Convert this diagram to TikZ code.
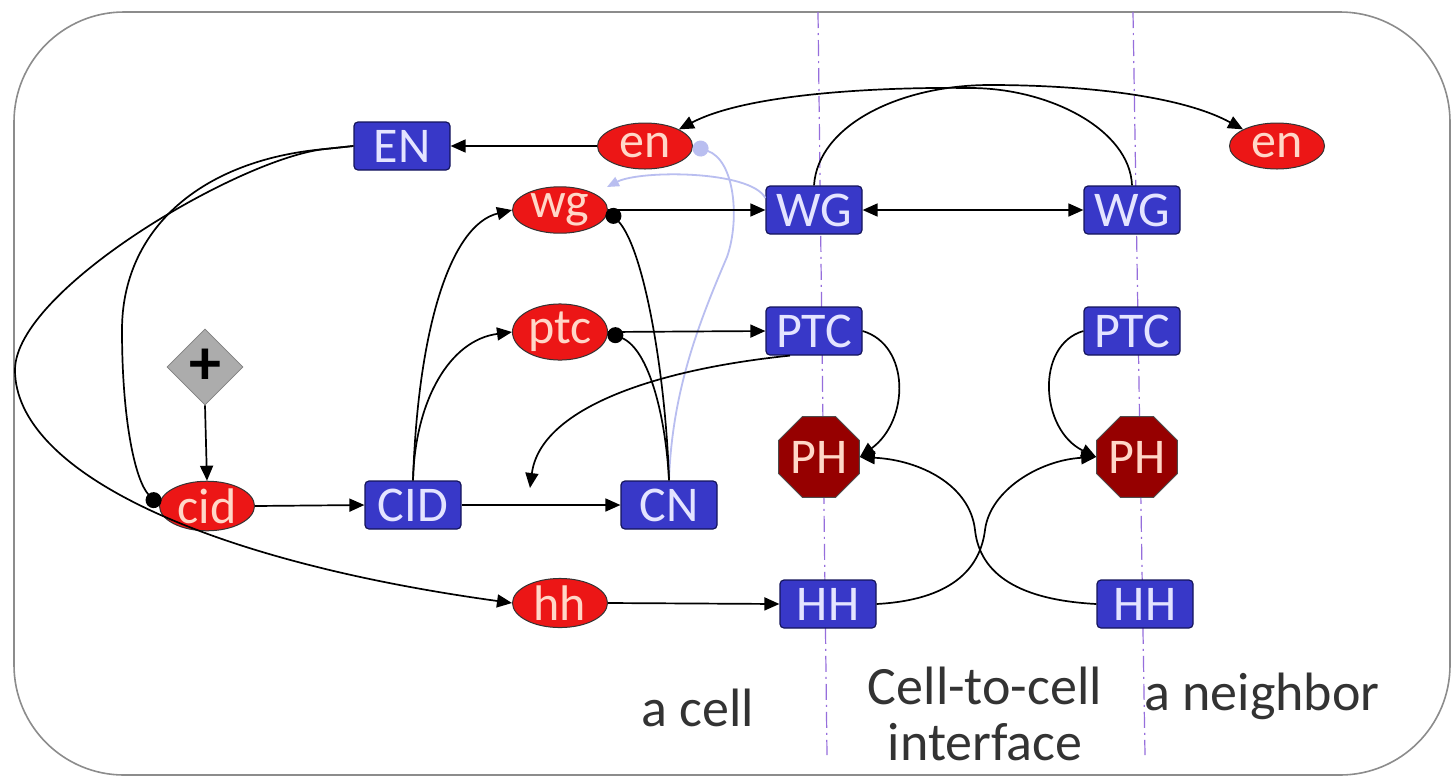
\documentclass[tikz,border=0pt]{standalone}
\usepackage{fontspec}
\setmainfont{Carlito}
\usetikzlibrary{arrows.meta,shapes.geometric}
\definecolor{boxblue}{RGB}{56,56,200}
\definecolor{boxedge}{RGB}{20,20,90}
\definecolor{ellred}{RGB}{236,22,22}
\definecolor{phred}{RGB}{150,0,0}
\definecolor{sepline}{RGB}{150,110,220}
\definecolor{lightlink}{RGB}{185,190,240}
\definecolor{framegray}{RGB}{140,140,140}
\definecolor{boxtext}{RGB}{228,228,255}
\definecolor{elltext}{RGB}{255,215,200}
\begin{document}
\begin{tikzpicture}[x=0.5pt,y=-0.5pt,
  box/.style={draw=boxedge, fill=boxblue, rounded corners=2pt, minimum width=48pt, minimum height=24pt, inner sep=0pt, text=boxtext, font=\fontsize{25}{25}\selectfont, line width=0.6pt},
  ell/.style={ellipse, draw=black!80, fill=ellred, minimum width=47.5pt, minimum height=23pt, inner sep=0pt, text=elltext, font=\fontsize{25}{25}\selectfont, line width=0.5pt},
  octa/.style={regular polygon, regular polygon sides=8, draw=black!70, fill=phred, minimum size=43pt, inner sep=0pt, text=elltext, font=\fontsize{25}{25}\selectfont, line width=0.5pt},
  gate/.style={diamond, draw=gray, fill=gray!65, minimum width=38pt, minimum height=38pt, inner sep=0pt, font=\bfseries\fontsize{32}{32}\selectfont},
  txtlabel/.style={font=\fontsize{27}{27}\selectfont, text=black!80},
  link/.style={draw=black, line width=0.85pt},
  lightln/.style={draw=lightlink, line width=0.9pt},
  arr/.style={-{Triangle[length=7.5pt,width=6.5pt]}},
  blobtip/.style={-{Circle[length=8pt]}},
  lightarr/.style={-{Triangle[length=6pt,width=5pt,color=lightlink]}},
  lightblob/.style={-{Circle[length=8pt,color=lightlink]}},
  sepst/.style={draw=sepline, line width=0.6pt, dash pattern=on 8pt off 2.5pt on 1pt off 2.5pt}
]
\useasboundingbox (0,0) rectangle (1452,778);
\fill[white] (0,0) rectangle (1452,778);
\draw[framegray, line width=0.8pt, rounded corners=55pt] (14,12) rectangle (1450,775);

% separators
\draw[sepst] (818,12) -- (827,755);
\draw[sepst] (1133,12) -- (1145,755);

% nodes
\node[box] (EN) at (402,146) {EN};
\node[ell] (en1) at (645,146) {en};
\node[ell] (en2) at (1277,146) {en};
\node[ell] (wg) at (560,210) {wg};
\node[box] (WG1) at (814,210) {WG};
\node[box] (WG2) at (1132,210) {WG};
\node[ell] (ptc) at (560,332) {ptc};
\node[box] (PTC1) at (814,331) {PTC};
\node[box] (PTC2) at (1132,331) {PTC};
\node[gate] (plus) at (205,367) {+};
\node[ell] (cid) at (207,506) {cid};
\node[box] (CID) at (413,505) {CID};
\node[box] (CN) at (669,505) {CN};
\node[octa] (PH1) at (819,457) {PH};
\node[octa] (PH2) at (1137,457) {PH};
\node[ell] (hh) at (560,603) {hh};
\node[box] (HH1) at (828,604) {HH};
\node[box] (HH2) at (1145,604) {HH};

% labels
\node[txtlabel] (lcell) at (698,708) {a cell};
\node[txtlabel] (lc2c) at (985,686) {Cell-to-cell};
\node[txtlabel] (lint) at (985,742) {interface};
\node[txtlabel] (lnb) at (1262,696) {a neighbor};

\coordinate (free) at (530,488);
\coordinate (wgtip) at (607,187);

% light connectors
\draw[lightln,lightblob] (CN.north) .. controls (672,390) and (700,320) .. (727,257) .. controls (740,220) and (735,160) .. (en1.east);
\draw[lightln,lightarr] ([yshift=6pt]WG1.west) .. controls (750,170) and (640,170) .. (wgtip);

% black connectors
\draw[link,arr] (en1.west) -- (EN.east);
\draw[link,blobtip] (EN.west) -- (325,149) .. controls (200,160) and (122,230) .. (122,330) .. controls (122,420) and (135,480) .. (cid.west);
\draw[link,arr] (EN.west) -- (325,149) .. controls (240,158) and (15,290) .. (15,370) .. controls (15,470) and (200,560) .. (hh.west);
\draw[link,arr] (plus.south) -- (cid.north);
\draw[link,arr] (cid.east) -- (CID.west);
\draw[link,arr] (CID.east) -- (CN.west);
\draw[link,arr] (CID.north) .. controls (418,330) and (450,225) .. (wg.west);
\draw[link,arr] (CID.north) .. controls (415,400) and (450,340) .. (ptc.west);
\draw[link,blobtip] (CN.north) .. controls (666,380) and (645,250) .. (wg.east);
\draw[link,blobtip] (CN.north) .. controls (666,420) and (650,350) .. (ptc.east);
\draw[link,arr] (wg.east) -- (WG1.west);
\draw[link,arr] (ptc.east) -- (PTC1.west);
\draw[link,{Triangle[length=7.5pt,width=6.5pt]}-{Triangle[length=7.5pt,width=6.5pt]}] (WG1.east) -- (WG2.west);
\draw[link,arr] ([xshift=-12pt]PTC1.south) .. controls (650,370) and (540,410) .. (free);
\draw[link,arr] (WG1.north) .. controls (818,125) and (900,85) .. (990,85) .. controls (1080,85) and (1180,95) .. (en2.north west);
\draw[link,arr] (WG2.north) .. controls (1130,130) and (1050,88) .. (970,88) .. controls (890,87) and (750,92) .. (en1.north east);
\draw[link,arr] (PTC1.east) .. controls (910,345) and (910,420) .. (PH1.east);
\draw[link,arr] (PTC2.west) .. controls (1035,345) and (1040,430) .. (PH2.west);
\draw[link,arr] (HH1.east) .. controls (950,600) and (980,570) .. (985,530) .. controls (990,490) and (1040,460) .. (PH2.west);
\draw[link,arr] (HH2.west) .. controls (1020,600) and (980,575) .. (975,530) .. controls (970,485) and (920,460) .. (PH1.east);
\draw[link,arr] (hh.east) -- (HH1.west);
\end{tikzpicture}
\end{document}
